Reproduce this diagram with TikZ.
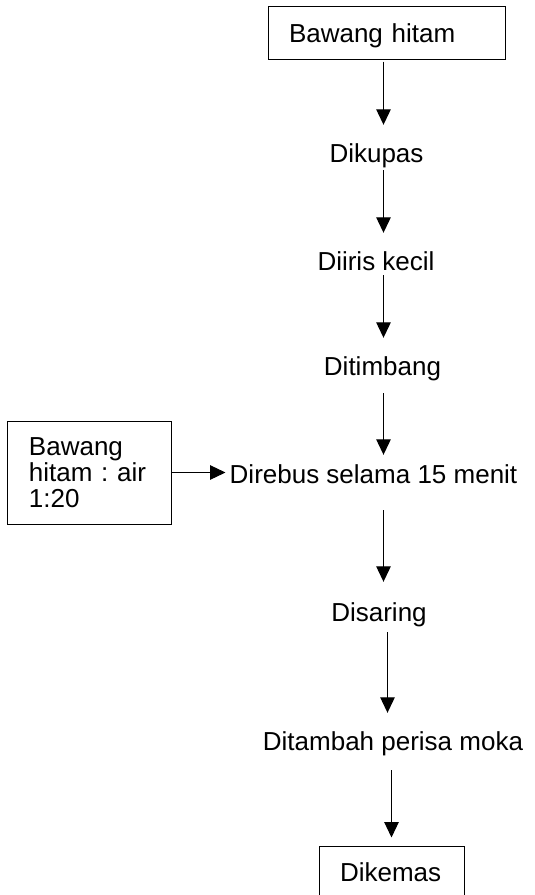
\documentclass[tikz,border=0pt]{standalone}
\usepackage{fontspec}
\setmainfont{Liberation Sans}
\usetikzlibrary{arrows.meta}
\frenchspacing
\begin{document}
\begin{tikzpicture}[x=1bp, y=-1bp,
  every node/.style={font=\fontsize{26bp}{25.5bp}\selectfont, inner sep=0pt},
  stepbox/.style={draw, line width=1bp, inner xsep=21bp, align=left,
    text height=18.6bp, text depth=0pt, minimum height=52bp},
  notebox/.style={draw, line width=1bp, inner xsep=21bp, align=left,
    minimum height=103bp},
  steptext/.style={anchor=base, text height=19bp, text depth=6bp},
  flow/.style={line width=1.1bp, -{Triangle[length=15.5bp,width=14.5bp]},
    shorten <=2bp, shorten >=18bp}]
  \useasboundingbox (0,0) rectangle (535,895);
  \clip (0,0) rectangle (535,895);

  % process steps
  \node[stepbox, text width=195bp] (start) at (386.5,33) {Bawang hitam};
  \node[steptext] (kupas)  at (376.5,162) {Dikupas};
  \node[steptext] (iris)   at (376,270)   {Diiris kecil};
  \node[steptext] (timbang) at (382.5,375) {Ditimbang};
  \node[steptext] (rebus)  at (373.5,483) {Direbus selama 15 menit};
  \node[steptext] (saring) at (379,621)   {Disaring};
  \node[steptext] (perisa) at (393,750)   {Ditambah perisa moka};
  \node[stepbox, text width=103bp] (kemas) at (391.5,872) {Dikemas};

  % side input
  \node[notebox, text width=121bp, font=\fontsize{26bp}{26bp}\selectfont]
    (ratio) at (89.5,472.5) {Bawang\\hitam : air\\1:20};

  % flow columns
  \coordinate (axis) at (383.5,0);
  \coordinate (axislow) at (387.5,0);

  \draw[flow] (start.south -| axis) -- (kupas.north -| axis);
  \draw[flow] (kupas.south -| axis) -- (iris.north -| axis);
  \draw[flow, shorten <=-1bp] (iris.south -| axis) -- (timbang.north -| axis);
  \draw[flow, shorten <=12bp, shorten >=9bp] (timbang.south -| axis) -- (rebus.north -| axis);
  \draw[flow, shorten <=21bp, shorten >=20bp] (rebus.south -| axis) -- (saring.north -| axis);
  \draw[flow, shorten <=5bp] (saring.south -| axislow) -- (perisa.north -| axislow);
  \draw[flow, shorten <=14bp, shorten >=8bp] (perisa.south -| kemas.north) -- (kemas.north);

  \draw[flow, shorten <=0bp, shorten >=4bp] (ratio.east) -- (ratio.east -| rebus.west);
\end{tikzpicture}
\end{document}
